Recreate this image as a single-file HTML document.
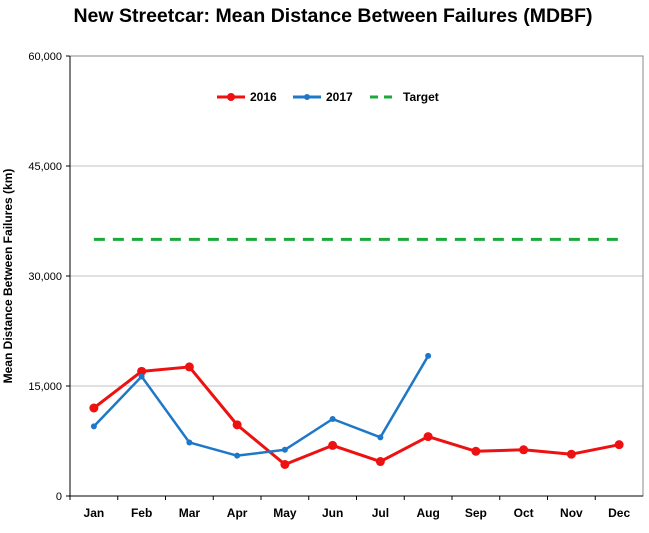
<!DOCTYPE html>
<html><head><meta charset="utf-8"><style>
body{margin:0;background:#fff;font-family:"Liberation Sans",Arial,sans-serif}
svg text{font-family:"Liberation Sans",Arial,sans-serif}
</style></head><body>
<svg id="chart" width="649" height="528" xmlns="http://www.w3.org/2000/svg">
<text x="333" y="22" text-anchor="middle" font-size="19.5" font-weight="bold">New Streetcar: Mean Distance Between Failures (MDBF)</text>
<text transform="translate(12,276) rotate(-90)" text-anchor="middle" font-size="12" font-weight="bold">Mean Distance Between Failures (km)</text>
<g id="grid"></g><g id="axes"></g><g id="series"></g>
<g>
<g><line x1="217" y1="97" x2="245" y2="97" stroke="#ee1111" stroke-width="3"/><circle cx="231" cy="97" r="4" fill="#ee1111"/><text x="250" y="101" font-size="12" font-weight="bold">2016</text></g>
<g><line x1="293" y1="97" x2="321" y2="97" stroke="#1f77c8" stroke-width="3"/><circle cx="307" cy="97" r="3" fill="#1f77c8"/><text x="326" y="101" font-size="12" font-weight="bold">2017</text></g>
<g><line x1="370" y1="97" x2="398" y2="97" stroke="#1aaa3a" stroke-width="3" stroke-dasharray="8,6"/><text x="403" y="101" font-size="12" font-weight="bold">Target</text></g>
</g>
</svg>
<script>
const months=["Jan","Feb","Mar","Apr","May","Jun","Jul","Aug","Sep","Oct","Nov","Dec"];
const s2016=[12000,17000,17600,9700,4300,6900,4700,8100,6100,6300,5700,7000];
const s2017=[9500,16300,7300,5500,6300,10500,8000,19100];
const target=[35000,35000,35000,35000,35000,35000,35000,35000,35000,35000,35000,35000];
const yTicks=[0,15000,30000,45000,60000];
const L=70,R=643,T=56,B=496,yMax=60000;
const NS="http://www.w3.org/2000/svg";
const xs=i=>L+(R-L)/months.length*(i+0.5);
const ys=v=>B-(B-T)*v/yMax;
function mk(tag,attrs,parent){const e=document.createElementNS(NS,tag);for(const k in attrs)e.setAttribute(k,attrs[k]);document.getElementById(parent).appendChild(e);return e;}
yTicks.forEach(v=>{
  if(v>0){const g=mk('line',{x1:L,x2:R,y1:ys(v),y2:ys(v),stroke:'#c0c0c0','stroke-width':1},'grid');
  
  }
  const t=mk('text',{x:L-8,y:ys(v)+4,'text-anchor':'end','font-size':11},'axes');t.textContent=v.toLocaleString('en-US');
  
  
  mk('line',{x1:L-4,x2:L,y1:ys(v),y2:ys(v),stroke:'#000'},'axes');
});
const fr=mk('rect',{x:L,y:T,width:R-L,height:B-T,fill:'none',stroke:'#888'},'axes');


mk('line',{x1:L,x2:R,y1:B,y2:B,stroke:'#000'},'axes');
mk('line',{x1:L,x2:L,y1:T,y2:B,stroke:'#000'},'axes');
months.forEach((m,i)=>{
  const t=mk('text',{x:xs(i),y:B+21,'text-anchor':'middle','font-size':12,'font-weight':'bold'},'axes');t.textContent=m;
  
  
  mk('line',{x1:L+(R-L)/12*i,x2:L+(R-L)/12*i,y1:B,y2:B+4,stroke:'#000'},'axes');
});
function line(data,color,w,dash,r,name){
  const p=mk('polyline',{points:data.map((v,i)=>xs(i)+','+ys(v)).join(' '),fill:'none',stroke:color,'stroke-width':w,'stroke-linejoin':'round'},'series');
  if(dash)p.setAttribute('stroke-dasharray',dash);
  
  
  if(r)data.forEach((v,i)=>{const c=mk('circle',{cx:xs(i),cy:ys(v),r:r,fill:color},'series');
    
    });
}
line(target,'#1aaa3a',3,'11,8',0,'target');
line(s2016,'#ee1111',3,null,4.5,'series-2016');
line(s2017,'#1f77c8',2.5,null,3,'series-2017');
</script>
</body></html>
